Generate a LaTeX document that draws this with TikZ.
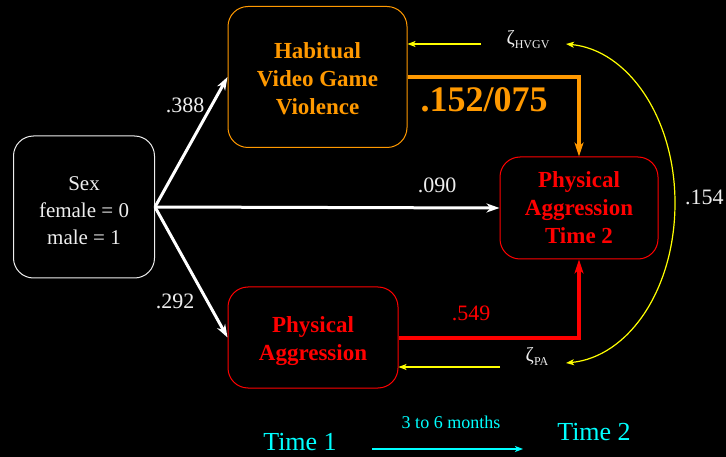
\documentclass[tikz,border=0pt]{standalone}
\usepackage{fontspec}
\setmainfont{Liberation Serif}
\usetikzlibrary{arrows.meta}
\definecolor{hvorange}{RGB}{255,153,0}
\definecolor{pared}{RGB}{255,0,0}
\definecolor{zyellow}{RGB}{255,255,0}
\definecolor{tcyan}{RGB}{0,255,255}
\definecolor{lgray}{RGB}{238,238,238}
\newcommand\boxlines[2]{\raisebox{-#1}[0pt][0pt]{\begin{tabular}{@{}c@{}}#2\end{tabular}}}
\begin{document}
\begin{tikzpicture}[x=1pt,y=-1pt,
  box/.style={rounded corners=20pt, fill=black, align=center, inner sep=0pt},
  boldtext/.style={font=\fontsize{23}{28}\selectfont\bfseries},
  lab/.style={font=\fontsize{22}{26}\selectfont, text=lgray, inner sep=0pt},
  wharrow/.style={draw=white, line width=3pt, -{Stealth[length=13pt,width=9pt,inset=4pt]}},
  thickarrow/.style={line width=4pt, -{Stealth[length=14pt,width=9pt,inset=4pt]}},
  yarrow/.style={draw=zyellow, line width=1.2pt, -{Stealth[length=8pt,width=6pt,inset=2pt]}},
  zlab/.style={text=lgray, inner sep=0pt}]
\fill[black] (0,0) rectangle (726,457);
\useasboundingbox (0,0) rectangle (726,457);

\node[box, draw=lgray, line width=1pt, minimum width=141pt, minimum height=142pt,
      text=lgray, font=\fontsize{21}{27}\selectfont] (sex) at (84,207)
      {\boxlines{10.25pt}{Sex\\female = 0\\male = 1}};
\node[box, draw=hvorange, line width=1pt, minimum width=179pt, minimum height=141pt,
      text=hvorange, boldtext] (hv) at (317.5,77)
      {\boxlines{10.2pt}{Habitual\\Video Game\\Violence}};
\node[box, draw=pared, line width=1pt, minimum width=158pt, minimum height=102pt,
      text=pared, boldtext] (pa2) at (579,208)
      {\boxlines{8.2pt}{Physical\\Aggression\\Time 2}};
\node[box, draw=pared, line width=1pt, minimum width=170pt, minimum height=101pt,
      text=pared, boldtext] (pa) at (313,337.5)
      {\boxlines{9.75pt}{Physical\\Aggression}};

\draw[wharrow] (sex.east) -- (hv.west);
\draw[wharrow] (sex.east) -- (pa.west);
\draw[wharrow] (sex.east) -- (pa2.west);

\draw[thickarrow, draw=hvorange, color=hvorange] (hv.east) -| (pa2.north);
\draw[thickarrow, draw=pared, color=pared] (pa.east) -| (pa2.south);

\node[lab] (l388) at (185,105) {.388};
\node[lab] (l292) at (175,301) {.292};
\node[lab] (l090) at (437,185) {.090};
\node[lab, text=pared] (l549) at (471,313) {.549};
\node[inner sep=0pt, text=hvorange, font=\fontsize{36}{40}\selectfont\bfseries] (l152) at (484,100) {.152/075};

\node[zlab, font=\fontsize{20}{22}\selectfont] (zh) at (528,40) {ζ\raisebox{-4pt}{\fontsize{12}{14}\selectfont HVGV}};
\node[zlab, font=\fontsize{20}{22}\selectfont] (zp) at (537,356) {ζ\raisebox{-4pt}{\fontsize{12}{14}\selectfont PA}};
\coordinate (zhs) at (481,44);
\coordinate (zps) at (500,367);
\draw[yarrow] (zhs) -- (zhs -| hv.east);
\draw[yarrow] (zps) -- (zps -| pa.east);

\coordinate (ct) at (566,44);
\coordinate (cb) at (566,363);
\draw[draw=zyellow, line width=1.2pt, {Stealth[length=8pt,width=6pt,inset=2pt]}-{Stealth[length=8pt,width=6pt,inset=2pt]}]
  (ct) .. controls (628,50) and (675,118) .. (675,203) .. controls (675,290) and (628,357) .. (cb);
\node[lab, anchor=west] (l154) at (685,197) {.154};

\node[text=tcyan, font=\fontsize{26}{30}\selectfont, inner sep=0pt] (t1) at (300,442) {Time 1};
\node[text=tcyan, font=\fontsize{26}{30}\selectfont, inner sep=0pt] (t2) at (594,432) {Time 2};
\node[text=tcyan, font=\fontsize{18}{22}\selectfont, inner sep=0pt] (mo) at (451,422) {3 to 6 months};
\coordinate (ts) at (372,449);
\coordinate (te) at (523,449);
\draw[draw=tcyan, line width=1.2pt, -{Stealth[length=8pt,width=6pt,inset=2pt]}] (ts) -- (te);
\end{tikzpicture}
\end{document}
